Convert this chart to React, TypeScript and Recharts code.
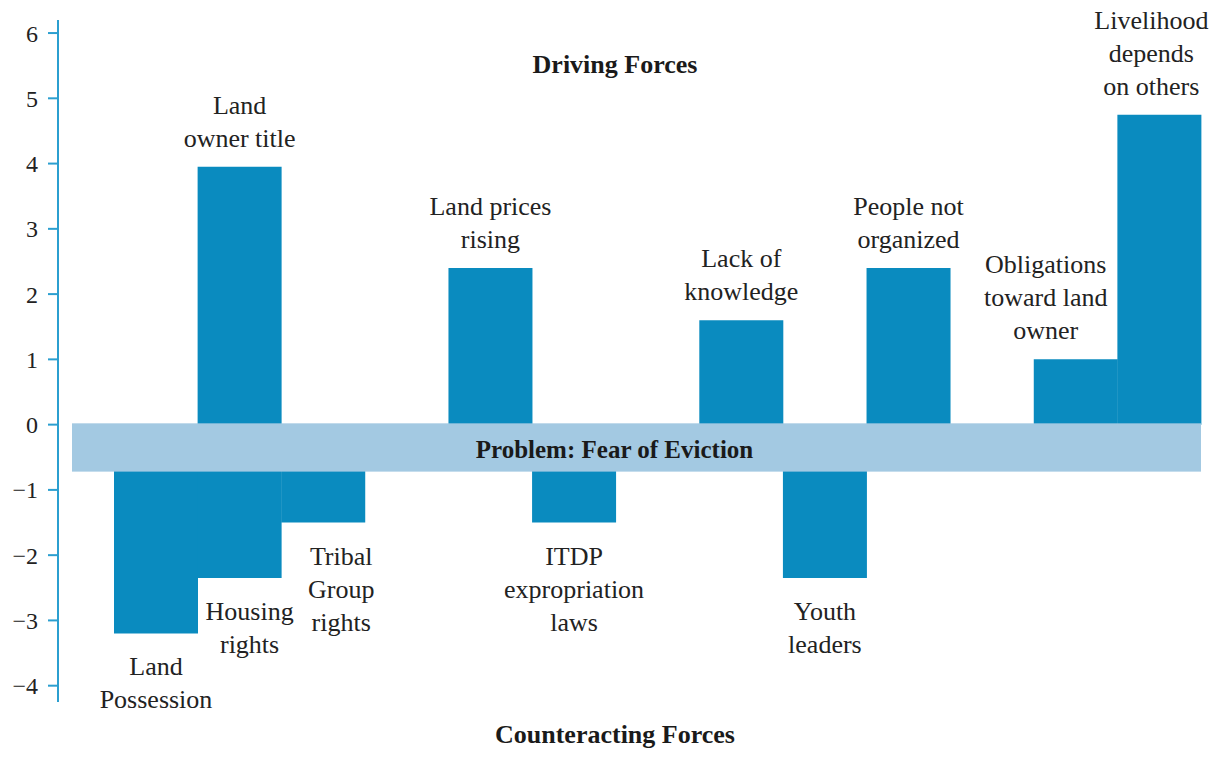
import { BarChart, Bar, XAxis, YAxis, ReferenceArea, LabelList } from 'recharts'

// Force-field chart: driving forces above the problem band, counteracting forces below

const slots = ['s1', 's2', 's3', 's4', 's5', 's6', 's7', 's8', 's9', 's10', 's11', 's12', 's13']

const drivingValues = [null, 3.95, null, null, 2.4, null, null, 1.6, null, 2.4, null, 1.0, 4.75]
const drivingLabels = [
  '', 'Land\nowner title', '', '', 'Land prices\nrising', '', '', 'Lack of\nknowledge', '',
  'People not\norganized', '', 'Obligations\ntoward land\nowner', 'Livelihood\ndepends\non others',
]

const counterValues = [-3.2, -2.35, -1.5, null, null, -1.5, null, null, -2.35, null, null, null, null]
const counterLabels = [
  'Land\nPossession', 'Housing\nrights', 'Tribal\nGroup\nrights', '', '', 'ITDP\nexpropriation\nlaws',
  '', '', 'Youth\nleaders', '', '', '', '',
]

const yTicks = [-4, -3, -2, -1, 0, 1, 2, 3, 4, 5, 6]

const problemBand = { label: 'Problem: Fear of Eviction', from: -0.72, to: 0.02 }

const data = slots.map((slot, i) => ({
  slot,
  driving: drivingValues[i],
  drivingLabel: drivingLabels[i],
  counter: counterValues[i],
  counterLabel: counterLabels[i],
}))

const FONT = '"Liberation Serif", "Times New Roman", serif'
const BAR = '#0a8bbf'
const BAND = '#a3c9e2'
const AXIS = '#2b9fd0'
const LINE_H = 33

// small sideways nudges so crowded labels sit like the printed figure
const labelNudge: Record<string, number> = {
  'Housing\nrights': 10,
  'Tribal\nGroup\nrights': 18,
  'Obligations\ntoward land\nowner': -30,
  'Livelihood\ndepends\non others': -8,
}

const makeLabel = (below: boolean) => (props: any) => {
  const { x, y, width, height, value } = props
  if (!value) return null
  const lines = String(value).split('\n')
  const top = Math.min(y, y + height)
  const bottom = Math.max(y, y + height)
  const cx = x + width / 2 + (labelNudge[value] ?? 0)
  const firstY = below ? bottom + 42 : top - 20 - (lines.length - 1) * LINE_H
  return (
    <text x={cx} y={firstY} textAnchor="middle" style={{ fontFamily: FONT, fontSize: 26 }} fill="#222">
      {lines.map((l, i) => (
        <tspan key={i} x={cx} dy={i === 0 ? 0 : LINE_H}>
          {l}
        </tspan>
      ))}
    </text>
  )
}

const BandShape = (props: any) => {
  const { x, y, width, height } = props
  // band reaches back toward the axis, past the first slot
  const left = x - 42
  const w = width + 42
  return (
    <g>
      <rect x={left} y={y} width={w} height={height} fill={BAND} />
      <text
        x={left + w / 2 - 22}
        y={y + height / 2 + 2}
        dominantBaseline="central"
        textAnchor="middle"
        style={{ fontFamily: FONT, fontWeight: 'bold', fontSize: 25 }}
        fill="#1a1a1a"
      >
        {problemBand.label}
      </text>
    </g>
  )
}

const titleStyle: React.CSSProperties = {
  position: 'absolute',
  left: 0,
  width: 1230,
  textAlign: 'center',
  fontFamily: FONT,
  fontWeight: 'bold',
  fontSize: 26,
  color: '#1a1a1a',
  lineHeight: '28px',
}

export default function App() {
  return (
    <div
      style={{
        position: 'absolute',
        left: 0,
        top: 0,
        width: 1219,
        height: 758,
        background: '#fff',
        fontFamily: FONT,
      }}
    >
      <BarChart
        width={1219}
        height={758}
        data={data}
        stackOffset="sign"
        barCategoryGap={0}
        barGap={0}
        margin={{ top: 20, right: 18, bottom: 56, left: 0 }}
      >
        <XAxis dataKey="slot" hide padding={{ left: 56, right: 0 }} />
        <YAxis
          width={58}
          domain={[-4.25, 6.2]}
          ticks={yTicks}
          interval={0}
          tickSize={10}
          tickMargin={10}
          axisLine={{ stroke: AXIS, strokeWidth: 2 }}
          tickLine={{ stroke: AXIS, strokeWidth: 2 }}
          tick={{ fontSize: 24, fill: '#222', style: { fontFamily: FONT } }}
          tickFormatter={(v: number) => (v < 0 ? `\u2212${Math.abs(v)}` : `${v}`)}
        />
        <Bar dataKey="driving" stackId="f" fill={BAR} isAnimationActive={false}>
          <LabelList dataKey="drivingLabel" content={makeLabel(false)} />
        </Bar>
        <Bar dataKey="counter" stackId="f" fill={BAR} isAnimationActive={false}>
          <LabelList dataKey="counterLabel" content={makeLabel(true)} />
        </Bar>
        <ReferenceArea
          y1={problemBand.from}
          y2={problemBand.to}
          fillOpacity={1}
          shape={BandShape}
          zIndex={350}
        />
      </BarChart>
      <div style={{ ...titleStyle, top: 51 }}>Driving Forces</div>
      <div style={{ ...titleStyle, top: 721 }}>Counteracting Forces</div>
    </div>
  )
}
